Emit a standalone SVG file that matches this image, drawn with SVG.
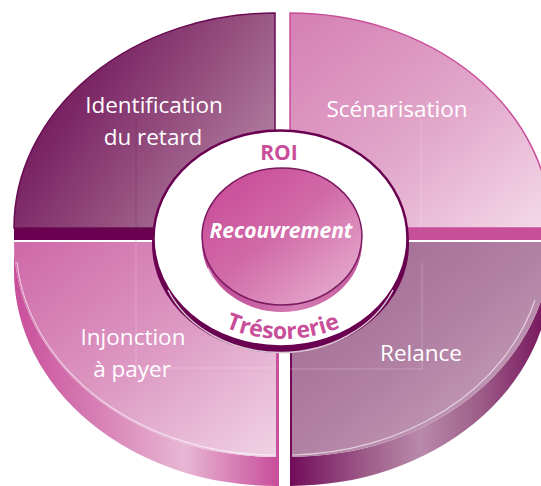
<svg xmlns="http://www.w3.org/2000/svg" width="541" height="486" viewBox="0 0 541 486">
<defs>
<linearGradient id="gTL" x1="0" y1="0.35" x2="1" y2="0.9"><stop offset="0" stop-color="#6a0c55"/><stop offset="0.55" stop-color="#965180"/><stop offset="1" stop-color="#bb8dae"/></linearGradient>
<linearGradient id="gTR" x1="0" y1="0" x2="1" y2="1"><stop offset="0" stop-color="#d47fb4"/><stop offset="0.55" stop-color="#e2a8cb"/><stop offset="1" stop-color="#f4dbe9"/></linearGradient>
<linearGradient id="gBR" x1="0" y1="0" x2="1" y2="1"><stop offset="0" stop-color="#a06690"/><stop offset="0.5" stop-color="#b181a3"/><stop offset="1" stop-color="#d0abc4"/></linearGradient>
<linearGradient id="gBL" x1="0" y1="0" x2="1" y2="1"><stop offset="0" stop-color="#cf68a8"/><stop offset="0.5" stop-color="#dc97c2"/><stop offset="1" stop-color="#f0d3e4"/></linearGradient>
<linearGradient id="sBL" gradientUnits="userSpaceOnUse" x1="14" y1="0" x2="276" y2="0"><stop offset="0" stop-color="#c94e9a"/><stop offset="0.3" stop-color="#d67cb3"/><stop offset="0.65" stop-color="#e8b7d4"/><stop offset="1" stop-color="#c9509c"/></linearGradient>
<linearGradient id="sBR" gradientUnits="userSpaceOnUse" x1="290" y1="0" x2="541" y2="0"><stop offset="0" stop-color="#720b5a"/><stop offset="0.3" stop-color="#9d5b89"/><stop offset="0.52" stop-color="#b98aab"/><stop offset="0.75" stop-color="#9e5f8a"/><stop offset="1" stop-color="#7a1a60"/></linearGradient>
<linearGradient id="gDisc" x1="0.1" y1="0.1" x2="0.9" y2="0.95"><stop offset="0" stop-color="#c94d98"/><stop offset="0.45" stop-color="#d16aa8"/><stop offset="1" stop-color="#e6add0"/></linearGradient>
<linearGradient id="sDisc" x1="0" y1="0" x2="1" y2="0"><stop offset="0" stop-color="#b84190"/><stop offset="0.6" stop-color="#d57db4"/><stop offset="1" stop-color="#c25a9e"/></linearGradient>
<path id="arcT" d="M 159,238 A 124,101 0 0 0 407,238"/>
</defs>
<style>
.lbl{font-family:"Open Sans","Noto Sans","Liberation Sans",sans-serif;font-weight:400;font-size:22.5px;fill:#ffffff;text-anchor:middle}
.grid{stroke:#ffffff;stroke-opacity:0.28;stroke-width:0.8;fill:none}
.hl{fill:none;stroke:#ffffff;stroke-opacity:0.6;stroke-width:1.2}
.ctr{font-family:"Open Sans","Noto Sans","Liberation Sans",sans-serif;font-weight:700;fill:#c94e9a;text-anchor:middle}
</style>
<rect width="541" height="486" fill="#ffffff"/>

<g id="q-injonction">
<path d="M 14,242 A 262,215 0 0 0 276,457 L 276,486 A 262,215 0 0 1 14,271 Z" fill="url(#sBL)"/>
<path d="M 14,242 L 276,242 L 276,457 A 262,215 0 0 1 14,242 Z" fill="url(#gBL)"/>
<path d="M 17,262 A 259,212 0 0 0 276,455" class="hl"/>
<rect x="276" y="242" width="3" height="244" fill="#c9509c"/>
<path d="M 136,242 L 136,368 L 276,368" class="grid"/>
<text class="lbl" x="133" y="345">Injonction</text>
<text class="lbl" x="132" y="377">à payer</text>
</g>

<g id="q-relance">
<path d="M 551,242 A 261,215 0 0 1 290,457 L 290,486 A 261,215 0 0 0 551,271 Z" fill="url(#sBR)"/>
<path d="M 290,242 L 551,242 A 261,215 0 0 1 290,457 Z" fill="url(#gBR)"/>
<path d="M 535,300 A 258,212 0 0 1 292,455" class="hl" stroke-opacity="0.45"/>
<rect x="290" y="242" width="2" height="244" fill="#720b5a"/>
<path d="M 422,263 L 422,369 L 290,369" class="grid"/>
<text class="lbl" x="421" y="361">Relance</text>
</g>

<g id="q-identification">
<rect x="14" y="228" width="261" height="12" fill="#6a0050"/>
<path d="M 275,228 L 14,228 A 261,215 0 0 1 275,13 Z" fill="url(#gTL)" stroke="#6a0a52" stroke-width="1.5"/>
<path d="M 136,118 L 136,242" stroke="#6a0a52" stroke-opacity="0.3" stroke-width="0.8" fill="none"/>
<text class="lbl" x="154" y="113">Identification</text>
<text class="lbl" x="153" y="145">du retard</text>
</g>

<g id="q-scenarisation">
<rect x="290" y="228" width="251" height="12" fill="#c64f98"/>
<path d="M 290,228 L 290,13 A 261,215 0 0 1 551,228 Z" fill="url(#gTR)" stroke="#c94e9a" stroke-width="1.5"/>
<path d="M 421,118 L 421,228" class="grid"/>
<text class="lbl" x="397" y="117">Scénarisation</text>
</g>

<g id="connectors"></g>

<g id="ring">
<ellipse cx="280.5" cy="244" rx="128.5" ry="109" fill="#6a0050"/>
<ellipse cx="280.5" cy="238.5" rx="127" ry="108" fill="#ffffff" stroke="#6a0050" stroke-width="2.5"/>
<path d="M 168,290 A 122,102 0 0 0 393,290" fill="none" stroke="#d9c6d2" stroke-width="1.5"/>
<text class="ctr" x="279" y="160" font-size="21">ROI</text>
<text class="ctr" font-size="23"><textPath href="#arcT" startOffset="50%">Trésorerie</textPath></text>
</g>

<g id="recouvrement">
<ellipse cx="282" cy="243" rx="80" ry="69" fill="url(#sDisc)"/>
<path d="M 208,262 A 80,69 0 0 0 358,262" fill="none" stroke="#ffffff" stroke-opacity="0.7" stroke-width="1.2" transform="translate(0,6)"/>
<ellipse cx="282" cy="236.5" rx="80" ry="68.5" fill="url(#gDisc)" stroke="#7a1a60" stroke-width="1.5"/>
<text x="281" y="238" font-family="'Open Sans','Noto Sans','Liberation Sans',sans-serif" font-weight="700" font-style="italic" font-size="21" fill="#ffffff" text-anchor="middle">Recouvrement</text>
</g>
</svg>
